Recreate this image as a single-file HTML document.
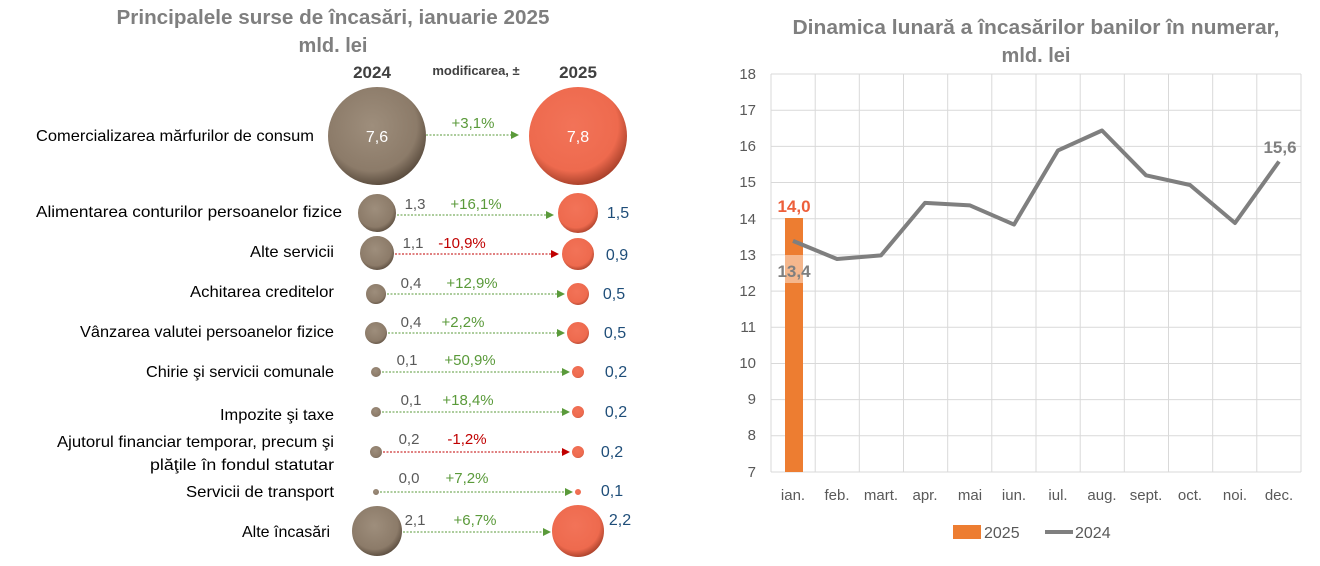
<!DOCTYPE html><html><head><meta charset="utf-8"><style>body{margin:0;background:#fff}svg{display:block;font-family:"Liberation Sans",sans-serif}</style></head><body>
<svg width="1320" height="566" viewBox="0 0 1320 566">
<defs>
<radialGradient id="gb" cx="45%" cy="40%" r="60%"><stop offset="0" stop-color="#9e8e7c"/><stop offset="0.75" stop-color="#8c7b69"/><stop offset="1" stop-color="#5a4c3e"/></radialGradient>
<radialGradient id="gr" cx="45%" cy="40%" r="60%"><stop offset="0" stop-color="#f27358"/><stop offset="0.75" stop-color="#ee6a4e"/><stop offset="1" stop-color="#a8402a"/></radialGradient>
<marker id="ag" markerWidth="8" markerHeight="8" refX="7" refY="4" orient="auto"><path d="M0,0L8,4L0,8z" fill="#5a9a3a"/></marker>
<marker id="ar" markerWidth="8" markerHeight="8" refX="7" refY="4" orient="auto"><path d="M0,0L8,4L0,8z" fill="#c00000"/></marker>
</defs>
<g font-weight="bold" fill="#7f7f7f" font-size="20" text-anchor="middle">
<text x="333" y="24" textLength="433" lengthAdjust="spacingAndGlyphs">Principalele surse de încasări, ianuarie 2025</text>
<text x="333" y="52">mld. lei</text>
<text x="1036" y="34" textLength="487" lengthAdjust="spacingAndGlyphs">Dinamica lunară a încasărilor banilor în numerar,</text>
<text x="1036" y="62">mld. lei</text>
</g>
<text x="372" y="78" font-size="17" font-weight="bold" fill="#404040" text-anchor="middle">2024</text>
<text x="578" y="78" font-size="17" font-weight="bold" fill="#404040" text-anchor="middle">2025</text>
<text x="476" y="75" font-size="13" font-weight="bold" fill="#404040" text-anchor="middle">modificarea, ±</text>
<g font-size="16" fill="#000" text-anchor="end" lengthAdjust="spacingAndGlyphs">
<text x="314" y="141" textLength="278" lengthAdjust="spacingAndGlyphs">Comercializarea mărfurilor de consum</text>
<text x="342" y="217" textLength="306" lengthAdjust="spacingAndGlyphs">Alimentarea conturilor persoanelor fizice</text>
<text x="334" y="257" textLength="84" lengthAdjust="spacingAndGlyphs">Alte servicii</text>
<text x="334" y="297" textLength="144" lengthAdjust="spacingAndGlyphs">Achitarea creditelor</text>
<text x="334" y="337" textLength="254" lengthAdjust="spacingAndGlyphs">Vânzarea valutei persoanelor fizice</text>
<text x="334" y="377" textLength="188" lengthAdjust="spacingAndGlyphs">Chirie şi servicii comunale</text>
<text x="334" y="420" textLength="114" lengthAdjust="spacingAndGlyphs">Impozite şi taxe</text>
<text x="334" y="447" textLength="277" lengthAdjust="spacingAndGlyphs">Ajutorul financiar temporar, precum şi</text>
<text x="334" y="470" textLength="184" lengthAdjust="spacingAndGlyphs">plăţile în fondul statutar</text>
<text x="334" y="497" textLength="148" lengthAdjust="spacingAndGlyphs">Servicii de transport</text>
<text x="330" y="537" textLength="88" lengthAdjust="spacingAndGlyphs">Alte încasări</text>
</g>
<g stroke="#fff" stroke-width="2">
<circle cx="377" cy="136" r="50" fill="url(#gb)"/><circle cx="578" cy="136" r="50" fill="url(#gr)"/>
<circle cx="377" cy="213" r="20" fill="url(#gb)"/><circle cx="578" cy="213" r="21" fill="url(#gr)"/>
<circle cx="377" cy="253" r="18" fill="url(#gb)"/><circle cx="578" cy="254" r="17" fill="url(#gr)"/>
<circle cx="376" cy="294" r="11" fill="url(#gb)"/><circle cx="578" cy="294" r="12" fill="url(#gr)"/>
<circle cx="376" cy="333" r="12" fill="url(#gb)"/><circle cx="578" cy="333" r="12" fill="url(#gr)"/>
<circle cx="376" cy="372" r="6" fill="url(#gb)"/><circle cx="578" cy="372" r="7" fill="url(#gr)"/>
<circle cx="376" cy="412" r="6" fill="url(#gb)"/><circle cx="578" cy="412" r="7" fill="url(#gr)"/>
<circle cx="376" cy="452" r="7" fill="url(#gb)"/><circle cx="578" cy="452" r="7" fill="url(#gr)"/>
<circle cx="376" cy="492" r="4" fill="url(#gb)"/><circle cx="578" cy="492" r="4" fill="url(#gr)"/>
<circle cx="377" cy="531" r="26" fill="url(#gb)"/><circle cx="578" cy="531" r="27" fill="url(#gr)"/>
</g>
<text x="377" y="142" font-size="16" fill="#fff" text-anchor="middle">7,6</text>
<text x="578" y="142" font-size="16" fill="#fff" text-anchor="middle">7,8</text>
<g stroke-width="1" stroke-dasharray="2,1.5" fill="none">
<line x1="426" y1="135" x2="518" y2="135" stroke="#5a9a3a" marker-end="url(#ag)"/>
<line x1="397" y1="215" x2="553" y2="215" stroke="#5a9a3a" marker-end="url(#ag)"/>
<line x1="395" y1="254" x2="558" y2="254" stroke="#c00000" marker-end="url(#ar)"/>
<line x1="387" y1="294" x2="564" y2="294" stroke="#5a9a3a" marker-end="url(#ag)"/>
<line x1="388" y1="333" x2="564" y2="333" stroke="#5a9a3a" marker-end="url(#ag)"/>
<line x1="382" y1="372" x2="569" y2="372" stroke="#5a9a3a" marker-end="url(#ag)"/>
<line x1="382" y1="412" x2="569" y2="412" stroke="#5a9a3a" marker-end="url(#ag)"/>
<line x1="383" y1="452" x2="569" y2="452" stroke="#c00000" marker-end="url(#ar)"/>
<line x1="380" y1="492" x2="572" y2="492" stroke="#5a9a3a" marker-end="url(#ag)"/>
<line x1="403" y1="532" x2="550" y2="532" stroke="#5a9a3a" marker-end="url(#ag)"/>
</g>
<g font-size="15" text-anchor="middle">
<text x="473" y="128" fill="#5a9a3a">+3,1%</text>
<text x="476" y="209" fill="#5a9a3a">+16,1%</text>
<text x="462" y="248" fill="#c00000">-10,9%</text>
<text x="472" y="288" fill="#5a9a3a">+12,9%</text>
<text x="463" y="327" fill="#5a9a3a">+2,2%</text>
<text x="470" y="365" fill="#5a9a3a">+50,9%</text>
<text x="468" y="405" fill="#5a9a3a">+18,4%</text>
<text x="467" y="444" fill="#c00000">-1,2%</text>
<text x="467" y="483" fill="#5a9a3a">+7,2%</text>
<text x="475" y="525" fill="#5a9a3a">+6,7%</text>
</g>
<g font-size="15" fill="#595959" text-anchor="middle">
<text x="415" y="209">1,3</text><text x="413" y="248">1,1</text><text x="411" y="288">0,4</text><text x="411" y="327">0,4</text><text x="407" y="365">0,1</text><text x="411" y="405">0,1</text><text x="409" y="444">0,2</text><text x="409" y="483">0,0</text><text x="415" y="525">2,1</text>
</g>
<g font-size="16" fill="#1f4e79" text-anchor="middle">
<text x="618" y="218">1,5</text><text x="617" y="260">0,9</text><text x="614" y="299">0,5</text><text x="615" y="338">0,5</text><text x="616" y="377">0,2</text><text x="616" y="417">0,2</text><text x="612" y="457">0,2</text><text x="612" y="496">0,1</text><text x="620" y="525">2,2</text>
</g>
<g stroke="#d9d9d9" stroke-width="1">
<line x1="771" y1="74" x2="1301" y2="74"/><line x1="771" y1="110.2" x2="1301" y2="110.2"/><line x1="771" y1="146.4" x2="1301" y2="146.4"/><line x1="771" y1="182.5" x2="1301" y2="182.5"/><line x1="771" y1="218.7" x2="1301" y2="218.7"/><line x1="771" y1="254.9" x2="1301" y2="254.9"/><line x1="771" y1="291.1" x2="1301" y2="291.1"/><line x1="771" y1="327.3" x2="1301" y2="327.3"/><line x1="771" y1="363.5" x2="1301" y2="363.5"/><line x1="771" y1="399.6" x2="1301" y2="399.6"/><line x1="771" y1="435.8" x2="1301" y2="435.8"/><line x1="771" y1="472" x2="1301" y2="472"/>
<line x1="771" y1="74" x2="771" y2="472"/><line x1="815.2" y1="74" x2="815.2" y2="472"/><line x1="859.3" y1="74" x2="859.3" y2="472"/><line x1="903.5" y1="74" x2="903.5" y2="472"/><line x1="947.7" y1="74" x2="947.7" y2="472"/><line x1="991.8" y1="74" x2="991.8" y2="472"/><line x1="1036" y1="74" x2="1036" y2="472"/><line x1="1080.2" y1="74" x2="1080.2" y2="472"/><line x1="1124.3" y1="74" x2="1124.3" y2="472"/><line x1="1168.5" y1="74" x2="1168.5" y2="472"/><line x1="1212.7" y1="74" x2="1212.7" y2="472"/><line x1="1256.8" y1="74" x2="1256.8" y2="472"/><line x1="1301" y1="74" x2="1301" y2="472"/>
</g>
<g font-size="15" fill="#595959" text-anchor="end">
<text x="756" y="79">18</text><text x="756" y="115">17</text><text x="756" y="151">16</text><text x="756" y="187">15</text><text x="756" y="224">14</text><text x="756" y="260">13</text><text x="756" y="296">12</text><text x="756" y="332">11</text><text x="756" y="368">10</text><text x="756" y="404">9</text><text x="756" y="440">8</text><text x="756" y="477">7</text>
</g>
<g font-size="15" fill="#595959" text-anchor="middle">
<text x="793" y="500">ian.</text><text x="837" y="500">feb.</text><text x="881" y="500">mart.</text><text x="925" y="500">apr.</text><text x="970" y="500">mai</text><text x="1014" y="500">iun.</text><text x="1058" y="500">iul.</text><text x="1102" y="500">aug.</text><text x="1146" y="500">sept.</text><text x="1190" y="500">oct.</text><text x="1235" y="500">noi.</text><text x="1279" y="500">dec.</text>
</g>
<rect x="785" y="218" width="18" height="254" fill="#ed7d31"/>
<rect x="775" y="255" width="38" height="28" fill="#fff" opacity="0.45"/>
<polyline fill="none" stroke="#7f7f7f" stroke-width="4" stroke-linejoin="round" points="793,240.9 837,259 881,255.4 925,202.9 970,205.4 1014,224.6 1058,150.4 1102,130.5 1146,175.3 1190,185 1235,223 1279,161.5"/>
<text x="794" y="212" font-size="17" font-weight="bold" fill="#ed5f3b" text-anchor="middle">14,0</text>
<text x="794" y="277" font-size="17" font-weight="bold" fill="#7f7f7f" text-anchor="middle">13,4</text>
<text x="1280" y="153" font-size="17" font-weight="bold" fill="#7f7f7f" text-anchor="middle">15,6</text>
<rect x="953" y="525" width="28" height="14" fill="#ed7d31"/>
<text x="984" y="538" font-size="16" fill="#595959">2025</text>
<line x1="1045" y1="532" x2="1073" y2="532" stroke="#7f7f7f" stroke-width="4"/>
<text x="1075" y="538" font-size="16" fill="#595959">2024</text>
</svg>
</body></html>
